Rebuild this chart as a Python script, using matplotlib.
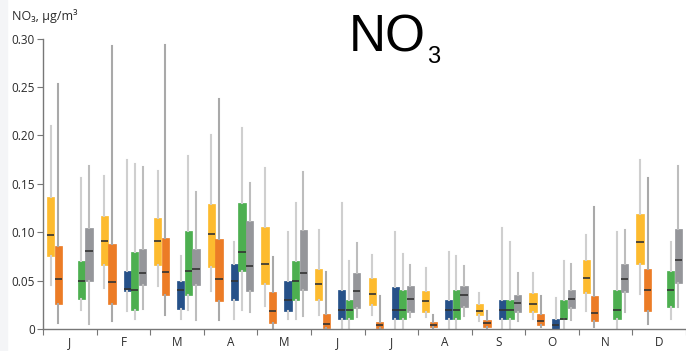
import numpy as np
import matplotlib
matplotlib.use("Agg")
import matplotlib.pyplot as plt
from matplotlib.patches import Rectangle

# month labels (one letter each)
months = ["J", "F", "M", "A", "M", "J", "J", "A", "S", "O", "N", "D"]

# per month: (whisker low, q1, median, q3, whisker high), None = no box
yellow = [(0.0455, 0.0754, 0.0968, 0.136, 0.210), (0.042, 0.066, 0.0906, 0.117, 0.158),
          (0.044, 0.066, 0.091, 0.115, 0.163), (0.039, 0.064, 0.098, 0.129, 0.200),
          (0.024, 0.047, 0.067, 0.105, 0.166), (0.014, 0.030, 0.046, 0.062, 0.102),
          (0.014, 0.025, 0.036, 0.053, 0.076), (0.012, 0.018, 0.029, 0.039, 0.063),
          (0.008, 0.014, 0.019, 0.026, 0.0375), (0.010, 0.018, 0.026, 0.037, 0.058),
          (0.019, 0.037, 0.053, 0.071, 0.097), (0.036, 0.067, 0.090, 0.1185, 0.175)]
orange = [(0.006, 0.0255, 0.052, 0.086, 0.253), (0.0086, 0.0255, 0.049, 0.0875, 0.292),
          (0.0145, 0.0355, 0.0585, 0.094, 0.294), (0.0093, 0.0286, 0.052, 0.093, 0.238),
          (0.0, 0.0065, 0.019, 0.038, 0.0744), (0.0, 0.0014, 0.005, 0.0155, 0.0586),
          (0.0, 0.0014, 0.0045, 0.0072, 0.0344), (0.0, 0.002, 0.004, 0.0072, 0.0148),
          (0.0, 0.0017, 0.0059, 0.009, 0.019), (0.002, 0.004, 0.008, 0.0151, 0.034),
          (0.0024, 0.0083, 0.0162, 0.0338, 0.1257), (0.005, 0.0186, 0.0406, 0.0617, 0.156)]
blue = [None, (0.019, 0.0396, 0.041, 0.0596, 0.175),
        (0.0103, 0.0203, 0.040, 0.0496, 0.0754), (0.010, 0.030, 0.050, 0.067, 0.0896),
        (0.010, 0.019, 0.030, 0.050, 0.100), (0.0, 0.010, 0.020, 0.040, 0.130),
        (0.0, 0.010, 0.020, 0.043, 0.100), (0.0, 0.010, 0.020, 0.030, 0.080),
        (0.0, 0.010, 0.020, 0.030, 0.104), (0.0, 0.0, 0.004, 0.0107, 0.032),
        None, None]
green = [(0.020, 0.031, 0.050, 0.070, 0.156), (0.010, 0.020, 0.040, 0.080, 0.170),
         (0.0196, 0.0348, 0.060, 0.101, 0.179), (0.020, 0.060, 0.080, 0.130, 0.208),
         (0.010, 0.030, 0.050, 0.070, 0.130), (0.0, 0.010, 0.020, 0.030, 0.070),
         (0.0, 0.010, 0.020, 0.040, 0.077), (0.0, 0.010, 0.020, 0.040, 0.0754),
         (0.0, 0.010, 0.020, 0.030, 0.090), (0.0, 0.010, 0.010, 0.030, 0.070),
         (0.001, 0.010, 0.020, 0.040, 0.100), (0.010, 0.023, 0.040, 0.060, 0.090)]
gray = [(0.005, 0.050, 0.081, 0.104, 0.168), (0.021, 0.045, 0.0575, 0.0826, 0.167),
        (0.0093, 0.0458, 0.0623, 0.083, 0.142), (0.0176, 0.0396, 0.0647, 0.112, 0.151),
        (0.0134, 0.0406, 0.0575, 0.102, 0.162), (0.012, 0.0217, 0.039, 0.058, 0.0888),
        (0.0128, 0.0176, 0.031, 0.0447, 0.066), (0.0134, 0.023, 0.0348, 0.0447, 0.0654),
        (0.0086, 0.0176, 0.0269, 0.035, 0.0575), (0.0093, 0.022, 0.0313, 0.040, 0.0668),
        (0.0176, 0.038, 0.0517, 0.0668, 0.102), (0.023, 0.048, 0.071, 0.103, 0.168)]

series = [yellow, orange, blue, green, gray]
slots = [1, 2, 4, 5, 6]          # position inside a month, in sevenths
box_colors = ["#FDBB2F", "#EC7C26", "#265189", "#4DAF50", "#95969A"]
whisk_colors = ["#cfcfcf", "#a9a9a9", "#cfcfcf", "#cfcfcf", "#bdbdbd"]

plt.rcParams['font.family'] = ['Open Sans', 'DejaVu Sans']

fig = plt.figure(figsize=(6.86, 3.51), dpi=100)
fig.patches.append(Rectangle((0, 0), 7 / 686, 1, transform=fig.transFigure,
                             color="#f4f5f7", zorder=0))
ax = fig.add_axes([43 / 686, 1 - 329 / 351, 1 - 43 / 686, (329 - 38.7) / 351])

for data, k, bc, wc in zip(series, slots, box_colors, whisk_colors):
    stats, pos = [], []
    for m, v in enumerate(data):
        if v is None:
            continue
        lo, q1, med, q3, hi = v
        stats.append(dict(whislo=lo, q1=q1, med=med, q3=q3, whishi=hi, fliers=[]))
        pos.append(m + k / 7)
    ax.bxp(stats, positions=pos, widths=0.135, patch_artist=True,
           showcaps=False, showfliers=False, manage_ticks=False,
           boxprops=dict(facecolor=bc, edgecolor=bc, linewidth=0.5),
           whiskerprops=dict(color=wc, linewidth=1.5),
           medianprops=dict(color="#333333", linewidth=1.2, solid_capstyle="butt"))

ax.set_xlim(0, (686 - 43) / 54)
ax.set_ylim(0, 0.30)

for s in ["top", "right"]:
    ax.spines[s].set_visible(False)
for s in ["left", "bottom"]:
    ax.spines[s].set_color("#777777")
    ax.spines[s].set_linewidth(1.0)

yt = np.arange(0, 0.31, 0.05)
ax.set_yticks(yt)
ax.set_yticklabels(["0"] + ["%.2f" % t for t in yt[1:]])
ax.tick_params(axis="y", length=4, width=0.8, color="#777777", pad=2,
               labelsize=8.5, labelcolor="#2b2b2b")

ax.set_xticks(np.arange(0, 13))
ax.set_xticklabels([])
ax.set_xticks(np.arange(12) + 0.5, minor=True)
ax.set_xticklabels(months, minor=True)
ax.tick_params(axis="x", which="major", length=4, width=0.8, color="#777777")
ax.tick_params(axis="x", which="minor", length=0, pad=5,
               labelsize=8.5, labelcolor="#2b2b2b")

fig.text(12 / 686, 1 - 20 / 351, "NO₃, µg/m³", fontsize=9, color="#2b2b2b",
         ha="left", va="baseline")

fig.text(349 / 686, 1 - 52 / 351, "NO", fontsize=37, family="Liberation Sans",
         color="black", ha="left", va="baseline")
fig.text(427 / 686, 1 - 63 / 351, "3", fontsize=17, family="Liberation Sans",
         color="black", ha="left", va="baseline")

fig.savefig("out.png", dpi=100)
